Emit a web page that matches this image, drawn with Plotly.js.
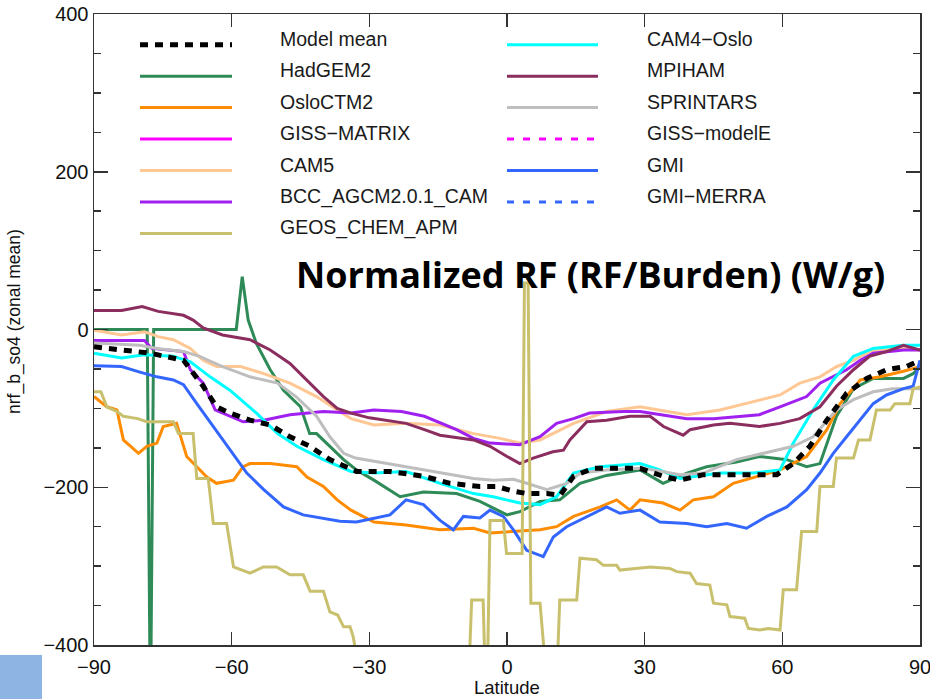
<!DOCTYPE html>
<html><head><meta charset="utf-8">
<script src="https://cdn.plot.ly/plotly-3.0.1.min.js"></script>
<style>html,body{margin:0;padding:0;background:#fff;} #chart{width:930px;height:699px;}</style>
</head><body><div id="chart"></div>
<script>
// ---------------- data ----------------
const modelMeanLat = [-90,-84,-80,-77.8,-70.5,-69,-66.2,-63.3,-60.4,-56,-51.6,-47.3,-43,-38.6,-35,-32.8,-25.5,-18.2,-12.4,-5.9,-2.3,1.4,4.3,8.7,11.6,14.5,18.8,25.4,29,34,37.7,42.8,50,58.8,62.4,66,69.7,74,78.4,82.7,87,90];
const modelMeanVal = [-22,-26,-28,-30,-39,-51,-72,-98,-106,-115,-121,-136,-148,-165,-174,-180,-180,-186,-195,-199,-199,-205,-208,-208,-210,-186,-176,-176,-176,-186,-191,-184,-184,-184,-170,-148,-115,-81,-62,-51,-47,-39];

const hadgemLat = [-90,-78.4,-77.7,-77.0,-59,-57.7,-56.4,-54.6,-51.6,-48.7,-45,-43,-41.5,-38.6,-35.6,-32.8,-29,-23.3,-18.2,-11,-5.9,0,2.8,7.2,11.5,15.9,21.7,29,34,39.2,43.5,50,55,61,65.3,68.2,71.8,75.5,79.8,86.4,88.5,90];
const hadgemVal = [0,0,-500,0,0,67,12,-18,-51,-77,-98,-132,-132,-148,-165,-178,-191,-212,-206,-208,-218,-235,-231,-218,-216,-195,-185,-178,-195,-182,-174,-168,-161,-165,-174,-170,-110,-75,-62,-62,-56,-47];

const osloctmLat = [-90,-87.2,-85,-83.6,-80.3,-78.5,-76.3,-74.9,-72,-69.8,-67.6,-65.4,-63.3,-59.6,-57.5,-56,-51.6,-45.8,-43.6,-40,-37,-34,-29,-22,-14.6,-7.3,-3.7,1.4,7.2,10.8,14.5,20.3,23.9,26.8,29,34,37.7,40.6,45,49.3,55,59.5,65.3,69.7,72.6,77,81.3,86.4,90];
const osloctmVal = [-85,-98,-102,-140,-157,-148,-144,-123,-119,-161,-174,-187,-195,-191,-174,-170,-170,-174,-187,-199,-216,-229,-244,-248,-254,-252,-258,-256,-254,-250,-237,-225,-216,-229,-216,-220,-229,-216,-212,-195,-185,-178,-161,-127,-94,-64,-60,-53,-47];

const gissMatrixLat = [];
const gissMatrixVal = [];

const cam5Lat = [-90,-84,-79,-76,-72.7,-69,-66.2,-63.3,-58,-53,-47.3,-41.5,-37,-34,-29,-22,-14.6,-7.3,-1.5,2.8,7.2,14.5,21.7,29,34,39.2,46.4,53.7,59.5,63.8,68.2,71.8,75.5,79,86.4,90];
const cam5Val = [-1,-7,-3,-9,-13,-24,-39,-47,-47,-56,-68,-85,-102,-113,-121,-119,-121,-132,-138,-144,-140,-119,-104,-98,-103,-108,-102,-91,-83,-68,-60,-47,-39,-28,-24,-26];

const bccLat = [-90,-79,-77.4,-70.5,-69,-66.2,-63.6,-60.4,-57.5,-53,-47.3,-40,-34,-29,-23,-18,-11,-7.3,-3.7,2.8,7.2,10.8,14.5,18,25.4,29,34,39.2,45,55,59.5,65.3,68.2,74,77,79.8,86.4,90];
const bccVal = [-14,-14,-24,-28,-51,-68,-102,-110,-117,-115,-108,-104,-106,-102,-104,-110,-127,-138,-144,-146,-136,-119,-113,-106,-104,-104,-108,-113,-113,-108,-98,-85,-68,-51,-39,-30,-26,-26];

const geosLat = [-90,-88.5,-87.2,-85,-83.6,-80.5,-78.5,-72.7,-71.6,-68.4,-67.6,-65.1,-64,-61.1,-59.6,-56,-53.1,-50.2,-47.3,-44.4,-42.9,-40,-38.6,-36.9,-35.6,-34.2,-33.5,-32.3,-31,-20,-9,-8.2,-7.7,-5.2,-4.7,-4.3,-3.7,-0.8,-0.1,3.3,3.8,4.6,5.2,7.2,8.7,10.8,11.5,15.2,15.9,19.5,21,23.9,24.6,28,31.2,35.5,37,39.9,41.3,44.2,45,47.9,48.6,51.8,52.6,55.1,57,59.5,60.2,63.1,64.2,67.5,68.2,71.1,71.8,75.5,76.6,79.1,80.5,83.5,84.5,87.8,88.5,90];
const geosVal = [-79,-79,-98,-104,-110,-113,-117,-117,-132,-132,-189,-189,-246,-246,-301,-309,-301,-301,-311,-311,-332,-332,-358,-362,-377,-377,-390,-430,-450,-450,-450,-420,-343,-343,-450,-450,-242,-242,-284,-284,59,59,-347,-347,-450,-450,-343,-343,-290,-292,-299,-299,-305,-303,-301,-303,-307,-309,-322,-324,-347,-349,-364,-366,-379,-381,-379,-381,-330,-330,-256,-256,-199,-199,-163,-163,-140,-140,-102,-102,-94,-94,-75,-73];

const cam4osloLat = [-90,-84,-79,-72.7,-69,-64.7,-60.4,-54.6,-50,-45.8,-40,-34,-29,-22,-14.6,-7.3,-3,2.8,7.2,10.8,14.5,20.3,29,33.3,37.7,46.4,53.7,59.5,62.4,66.7,71.1,75.5,79.8,86.4,90];
const cam4osloVal = [-30,-36,-32,-34,-41,-60,-77,-106,-132,-148,-165,-180,-182,-180,-195,-208,-212,-220,-222,-212,-182,-174,-170,-178,-189,-182,-182,-178,-144,-102,-64,-34,-24,-20,-20];

const mpihamLat = [-90,-84,-79.5,-76,-70.5,-68.4,-66.2,-62,-56,-51.6,-47.3,-43.6,-40,-37,-34,-30,-22,-18,-14.6,-7.3,-3.7,0,2.8,5.7,10,12.3,13.7,17.4,21.7,26.8,31.2,34.1,38.4,39.9,45,48.6,55,59.5,63.8,68.2,71.8,75.5,79,82.7,86.4,90];
const mpihamVal = [24,24,29,23,18,12,2,-7,-13,-26,-43,-64,-85,-100,-106,-112,-119,-127,-134,-140,-148,-161,-170,-163,-155,-153,-140,-117,-115,-110,-110,-123,-134,-127,-121,-119,-123,-119,-113,-98,-72,-51,-34,-28,-20,-26];

const sprintarsLat = [-90,-80,-76.3,-70.5,-67,-62,-56,-50,-46,-41.5,-38.6,-35.6,-33,-29,-22,-14.6,-7.3,-3,1.4,4.3,8.7,13,16,21.7,29,32,37.7,42.8,50,57.3,62.4,66.7,71.8,75.5,79.8,84,90];
const sprintarsVal = [-17,-20,-24,-28,-34,-47,-60,-68,-85,-110,-136,-157,-163,-167,-174,-182,-189,-191,-190,-195,-203,-195,-182,-178,-176,-178,-184,-182,-165,-155,-148,-136,-102,-89,-79,-75,-75];

const gissModelELat = [];
const gissModelEVal = [];

const gmiLat = [-90,-84,-80,-76.3,-72.7,-70.5,-67.6,-64,-60.4,-56.7,-53,-48.7,-44.4,-40,-36.4,-32.8,-29,-25.5,-22,-18.2,-14.6,-11.7,-9.5,-5.9,-3.7,-0.8,1.4,4.3,7.9,10.1,13,15.9,21.7,24.6,29,33.3,39.2,43.5,47.9,52.2,56.6,61,65.3,68.2,71.1,74,77,79.8,82.7,86.4,88.5,90];
const gmiVal = [-46,-47,-54,-60,-64,-70,-94,-123,-153,-182,-203,-225,-235,-239,-243,-244,-239,-235,-216,-222,-242,-254,-237,-239,-229,-237,-254,-280,-288,-263,-250,-242,-225,-233,-229,-244,-246,-250,-246,-252,-237,-225,-203,-182,-157,-136,-115,-94,-83,-75,-72,-39];

const gmiMerraLat = [];
const gmiMerraVal = [];

const xTickVals = [-90,-60,-30,0,30,60,90];
const yTickVals = [-400,-200,0,200,400];

// ---------------- series styling ----------------
const series = [
  {name:'Model mean',        x:modelMeanLat, y:modelMeanVal, color:'#000000', dash:'8px,7px', w:5, col:0, row:0},
  {name:'HadGEM2',           x:hadgemLat,    y:hadgemVal,    color:'#2E8B57', dash:'solid', w:3, col:0, row:1},
  {name:'OsloCTM2',          x:osloctmLat,   y:osloctmVal,   color:'#FF8C00', dash:'solid', w:3, col:0, row:2},
  {name:'GISS\u2212MATRIX',  x:gissMatrixLat,y:gissMatrixVal,color:'#FF00FF', dash:'solid', w:3, col:0, row:3},
  {name:'CAM5',              x:cam5Lat,      y:cam5Val,      color:'#FFC793', dash:'solid', w:3, col:0, row:4},
  {name:'BCC_AGCM2.0.1_CAM', x:bccLat,       y:bccVal,       color:'#A020F0', dash:'solid', w:3, col:0, row:5},
  {name:'GEOS_CHEM_APM',     x:geosLat,      y:geosVal,      color:'#C9C06E', dash:'solid', w:3, col:0, row:6},
  {name:'CAM4\u2212Oslo',    x:cam4osloLat,  y:cam4osloVal,  color:'#00FFFF', dash:'solid', w:3, col:1, row:0},
  {name:'MPIHAM',            x:mpihamLat,    y:mpihamVal,    color:'#8B2D5E', dash:'solid', w:3, col:1, row:1},
  {name:'SPRINTARS',         x:sprintarsLat, y:sprintarsVal, color:'#BEBEBE', dash:'solid', w:3, col:1, row:2},
  {name:'GISS\u2212modelE',  x:gissModelELat,y:gissModelEVal,color:'#FF00FF', dash:'7px,9px', w:3, col:1, row:3},
  {name:'GMI',               x:gmiLat,       y:gmiVal,       color:'#3366FF', dash:'solid', w:3, col:1, row:4},
  {name:'GMI\u2212MERRA',    x:gmiMerraLat,  y:gmiMerraVal,  color:'#3366FF', dash:'7px,9px', w:3, col:1, row:5}
];
// drawing order (model mean on top)
const drawOrder = ['HadGEM2','OsloCTM2','GISS\u2212MATRIX','CAM5','BCC_AGCM2.0.1_CAM','CAM4\u2212Oslo','MPIHAM','SPRINTARS','GISS\u2212modelE','GMI','GMI\u2212MERRA','GEOS_CHEM_APM','Model mean'];

const W=930, H=699, ML=94, MR=10, MT=14, MB=54;
const PW = W-ML-MR, PH = H-MT-MB;
const px = v => (v-ML)/PW;
const py = v => (H-MB-v)/PH;

const traces = drawOrder.map(n => {
  const s = series.find(t => t.name===n);
  return {type:'scatter', mode:'lines', name:s.name, x:s.x, y:s.y, showlegend:false,
          hoverinfo:'skip', line:{color:s.color, width:s.w, dash:s.dash}};
});

const fontMain = 'Liberation Sans, Arial, Helvetica, sans-serif';
const shapes = [];
const annotations = [];
const colX = [{l0:140,l1:232,t:278},{l0:507,l1:598,t:645}];
series.forEach(s => {
  const c = colX[s.col];
  const lineY = 44.7 + s.row*31.45;
  const textY = 38.8 + s.row*31.45;
  shapes.push({type:'line', xref:'paper', yref:'paper', x0:px(c.l0), x1:px(c.l1), y0:py(lineY), y1:py(lineY),
               line:{color:s.color, width:s.w, dash:s.dash}});
  annotations.push({xref:'paper', yref:'paper', x:px(c.t), y:py(textY), xanchor:'left', yanchor:'middle',
                    text:s.name, showarrow:false, font:{family:fontMain, size:19.5, color:'#1a1a1a'}});
});
annotations.push({xref:'paper', yref:'paper', x:px(590), y:py(274.5), xanchor:'center', yanchor:'middle',
                  text:'Normalized RF (RF/Burden) (W/g)', showarrow:false,
                  font:{family:'Open Sans, sans-serif', size:36, weight:700, color:'#000'}});
// axis titles
annotations.push({xref:'paper', yref:'paper', x:px(507), y:py(698.5), xanchor:'center', yanchor:'bottom',
                  borderpad:0, text:'Latitude', showarrow:false, font:{family:fontMain, size:18.5, color:'#111'}});
annotations.push({xref:'paper', yref:'paper', x:px(14), y:py(322), xanchor:'center', yanchor:'middle',
                  textangle:-90, text:'nrf_b_so4 (zonal mean)', showarrow:false,
                  font:{family:fontMain, size:17.5, color:'#111'}});
shapes.push({type:'rect', xref:'paper', yref:'paper', x0:px(0), x1:px(42), y0:py(655), y1:py(699),
             fillcolor:'#8DB4E2', line:{width:0}, layer:'above'});

const axisCommon = {showgrid:false, zeroline:false, showline:true, linecolor:'#333', linewidth:1.5,
                    mirror:'ticks', ticks:'inside', tickcolor:'#333', tickwidth:1.5,
                    ticklabeloverflow:'allow',
                    tickfont:{family:fontMain, size:20, color:'#111'}};
const layout = {
  width:W, height:H, margin:{l:ML, r:MR, t:MT, b:MB}, paper_bgcolor:'#fff', plot_bgcolor:'#fff',
  showlegend:false,
  xaxis: Object.assign({}, axisCommon, {range:[-90,90], tickvals:xTickVals, ticklen:13, ticklabelstandoff:3}),
  yaxis: Object.assign({}, axisCommon, {range:[-400,400], tickvals:yTickVals, ticklen:14,
          minor:{dtick:50, ticks:'inside', ticklen:7, tickcolor:'#333', tickwidth:1.5}}),
  shapes:shapes, annotations:annotations
};
Plotly.newPlot('chart', traces, layout, {staticPlot:true, displayModeBar:false});
</script>
</body></html>
